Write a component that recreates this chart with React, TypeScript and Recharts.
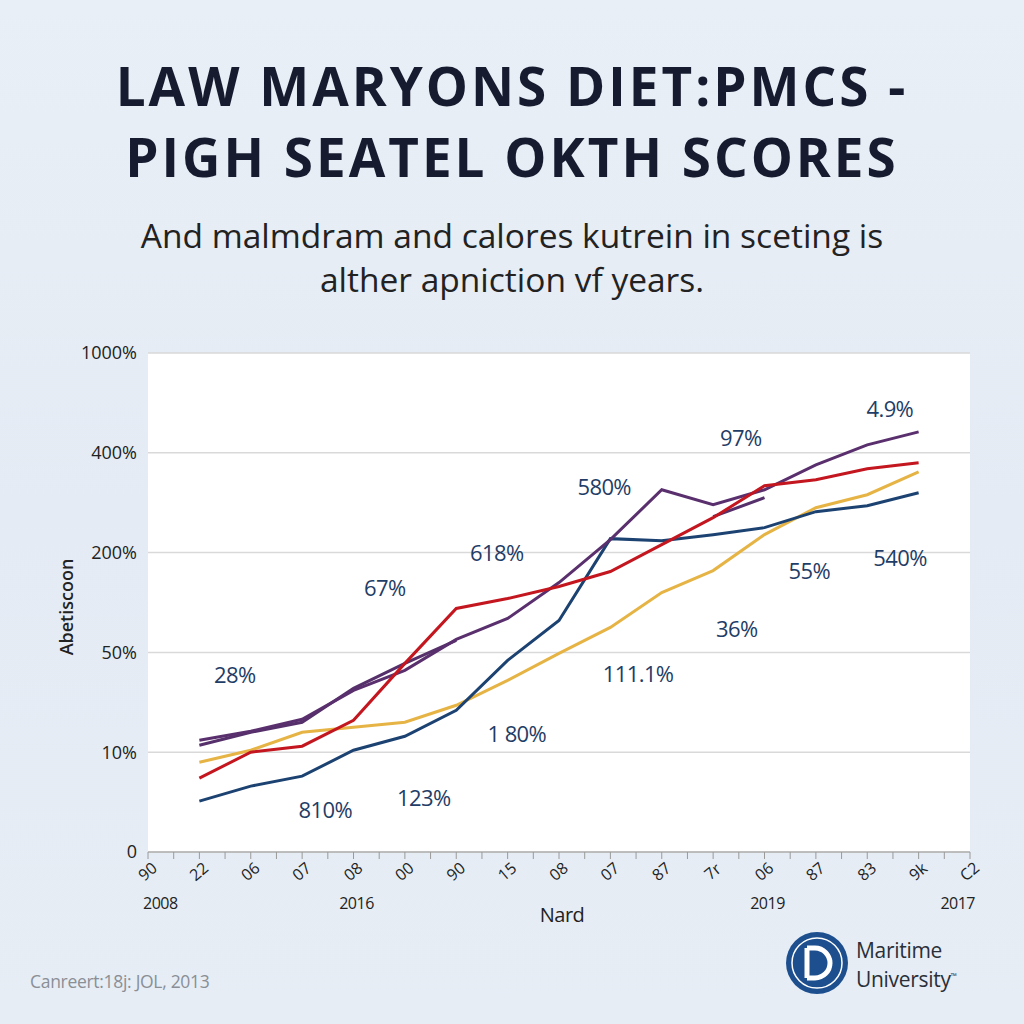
import React from 'react';
import { ComposedChart, Line, Scatter, XAxis, YAxis, CartesianGrid } from 'recharts';

// ---- data ----
const xTickLabels = ["90", "22", "06", "07", "08", "00", "90", "15", "08", "07", "87", "7r", "06", "87", "83", "9k", "C2"];
const yearLabels = ["2008", "", "", "", "2016", "", "", "", "", "", "", "", "2019", "", "", "", "2017"];
const yTickLabels = ["0", "10%", "50%", "200%", "400%", "1000%"];
const pointX = [1, 2, 3, 4, 5, 6, 7, 8, 9, 10, 11, 12, 13, 14, 15];
const navySeries = [0.51, 0.66, 0.76, 1.02, 1.16, 1.42, 1.92, 2.32, 3.14, 3.12, 3.18, 3.25, 3.41, 3.47, 3.6];
const redSeries = [0.74, 1.0, 1.06, 1.32, 1.89, 2.44, 2.54, 2.66, 2.81, 3.08, 3.35, 3.67, 3.73, 3.84, 3.9];
const yellowSeries = [0.9, 1.02, 1.2, 1.25, 1.3, 1.47, 1.72, 1.99, 2.25, 2.6, 2.82, 3.18, 3.45, 3.58, 3.81];
const purpleSeries = [1.12, 1.21, 1.33, 1.62, 1.82, 2.13, 2.34, 2.7, 3.13, 3.63, 3.48, 3.63, 3.88, 4.08, 4.21];
const purple2Series: (number | null)[] = [1.07, 1.2, 1.3, 1.64, 1.89, 2.12, null, null, null, null, 3.36, 3.55, null, null, null];

const annText = ["28%", "67%", "618%", "580%", "97%", "4.9%", "540%", "55%", "36%", "111.1%", "1 80%", "123%", "810%"];
const annX = [1.69, 4.61, 6.79, 8.88, 11.54, 14.44, 14.64, 12.87, 11.46, 9.54, 7.18, 5.37, 3.45];
const annY = [1.77, 2.65, 3.0, 3.66, 4.15, 4.44, 2.95, 2.82, 2.23, 1.78, 1.18, 0.54, 0.42];

const rows = pointX.map((x, i) => ({
  x,
  navy: navySeries[i],
  red: redSeries[i],
  yellow: yellowSeries[i],
  purple: purpleSeries[i],
  purple2: purple2Series[i],
}));
const annotations = annText.map((t, i) => ({ x: annX[i], y: annY[i], text: t }));
const xTicks = Array.from({ length: 33 }, (_, i) => i / 2);
const yTicks = [0, 1, 2, 3, 4, 5];

const FONT = "'Open Sans', 'Noto Sans', sans-serif";

const XTick = (props: any) => {
  const { x, y, payload } = props;
  const v = payload.value as number;
  if (!Number.isInteger(v)) return null;
  const lab = xTickLabels[v];
  const yr = yearLabels[v];
  const anchor = v === 0 ? 'start' : v === 16 ? 'end' : 'middle';
  const dx = v === 0 ? -5 : v === 16 ? 5 : 3;
  return (
    <g>
      <text
        x={x}
        y={y + 16}
        transform={`rotate(-40 ${x} ${y + 11})`}
        textAnchor="middle"
        fontSize={16}
        fill="#222"
        fontFamily={FONT}
      >
        {lab}
      </text>
      {yr ? (
        <text x={x + dx} y={y + 48} textAnchor={anchor} fontSize={16} fill="#222" fontFamily={FONT} letterSpacing={-0.5}>
          {yr}
        </text>
      ) : null}
    </g>
  );
};

const AnnShape = (props: any) => {
  const { cx, cy, payload } = props;
  return (
    <text x={cx} y={cy + 8} textAnchor="middle" fontSize={22} fill="#1f3d66" fontFamily={FONT} letterSpacing={-0.6}>
      {payload.text}
    </text>
  );
};

export default function App() {
  return (
    <div
      style={{
        position: 'absolute',
        left: 0,
        top: 0,
        width: 1024,
        height: 1024,
        overflow: 'hidden',
        background: 'linear-gradient(180deg, #e9eff6 0%, #e4ebf4 50%, #e6edf5 100%)',
        fontFamily: FONT,
      }}
    >
      <div
        style={{
          position: 'absolute',
          left: 0,
          width: 1024,
          top: 50,
          textAlign: 'center',
          fontSize: 53,
          fontWeight: 700,
          lineHeight: '71px',
          color: '#171b2f',
          letterSpacing: 3,
        }}
      >
        LAW MARYONS DIET:PMCS -<br />PIGH SEATEL OKTH SCORES
      </div>
      <div
        style={{
          position: 'absolute',
          left: 0,
          width: 1024,
          top: 213,
          textAlign: 'center',
          fontSize: 33.5,
          lineHeight: '44px',
          color: '#222',
        }}
      >
        And malmdram and calores kutrein in sceting is
        <br />
        alther apniction vf years.
      </div>

      <div style={{ position: 'absolute', left: 0, top: 0 }}>
        <ComposedChart
          width={1024}
          height={1024}
          data={rows}
          margin={{ top: 353, right: 54, bottom: 112, left: 88 }}
        >
          <CartesianGrid fill="#ffffff" vertical={false} stroke="#d9d9d9" strokeWidth={1.5} />
          <XAxis
            dataKey="x"
            type="number"
            domain={[0, 16]}
            ticks={xTicks}
            interval={0}
            height={60}
            tick={<XTick />}
            tickSize={7}
            tickMargin={2}
            stroke="#9a9a9a"
            allowDecimals
          />
          <YAxis
            type="number"
            domain={[0, 5]}
            ticks={yTicks}
            width={60}
            axisLine={false}
            tickLine={false}
            tickSize={0}
            tickMargin={11}
            tickFormatter={(v: number) => yTickLabels[v]}
            tick={{ fontSize: 18, fill: '#222', fontFamily: FONT }}
          />
          <Line dataKey="yellow" stroke="#e6b445" strokeWidth={3} dot={false} isAnimationActive={false} />
          <Line dataKey="navy" stroke="#1c4272" strokeWidth={3} dot={false} isAnimationActive={false} />
          <Line dataKey="purple2" stroke="#55306a" strokeWidth={3} dot={false} isAnimationActive={false} connectNulls={false} />
          <Line dataKey="purple" stroke="#5a2f6d" strokeWidth={3} dot={false} isAnimationActive={false} />
          <Line dataKey="red" stroke="#c3161f" strokeWidth={3} dot={false} isAnimationActive={false} />
          <Scatter data={annotations} dataKey="y" shape={<AnnShape />} isAnimationActive={false} />
        </ComposedChart>
      </div>

      <div
        style={{
          position: 'absolute',
          left: 66,
          top: 607,
          transform: 'translate(-50%, -50%) rotate(-90deg)',
          fontSize: 18,
          fontWeight: 600,
          color: '#222',
          whiteSpace: 'nowrap',
        }}
      >
        Abetiscoon
      </div>
      <div
        style={{
          position: 'absolute',
          left: 562,
          top: 914,
          transform: 'translate(-50%, -50%)',
          fontSize: 20,
          color: '#222',
          letterSpacing: -0.5,
        }}
      >
        Nard
      </div>
      <div
        style={{ position: 'absolute', left: 30, top: 969, fontSize: 17.5, color: '#8a8f96', letterSpacing: -0.3 }}
      >
        Canreert:18j: JOL, 2013
      </div>

      <svg style={{ position: 'absolute', left: 784, top: 930 }} width={66} height={66}>
        <circle cx={33} cy={33} r={31} fill="#1d4f8f" />
        <circle cx={33} cy={33} r={25} fill="none" stroke="#ffffff" strokeWidth={1.5} />
        <path d="M23 18 L23 48 M23 18 L31 18 A15 15 0 0 1 31 48 L23 48" fill="none" stroke="#fff" strokeWidth={5} />
        <path d="M34 20 A13 13 0 0 1 34 46" fill="none" stroke="#fff" strokeWidth={2} />
      </svg>
      <div
        style={{
          position: 'absolute',
          left: 856,
          top: 938,
          fontSize: 21,
          lineHeight: '25px',
          color: '#2a2f38',
          letterSpacing: -0.3,
        }}
      >
        Maritime
        <br />
        University<sup style={{ fontSize: 8 }}>™</sup>
      </div>
    </div>
  );
}
